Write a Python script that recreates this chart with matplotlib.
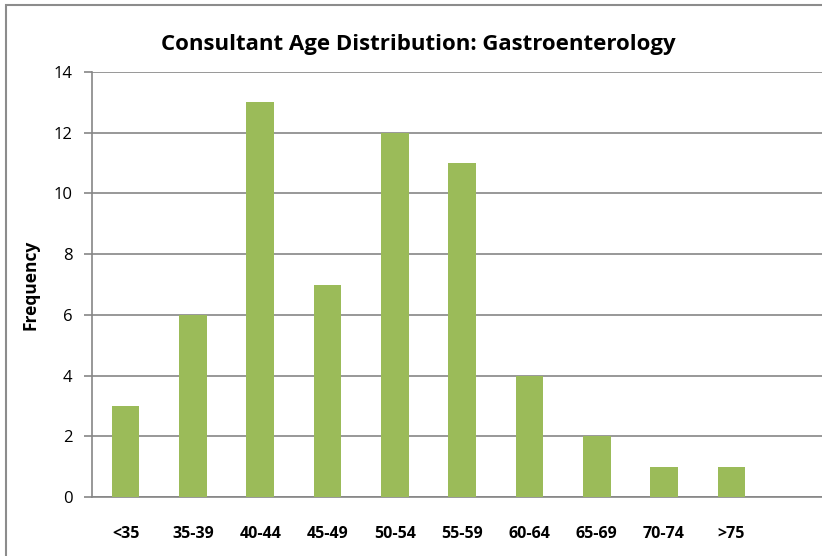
import matplotlib.pyplot as plt
from matplotlib.patches import Rectangle

# age bands and number of consultants in each
age_bands = ['<35', '35-39', '40-44', '45-49', '50-54', '55-59', '60-64', '65-69', '70-74', '>75']
frequency = [3, 6, 13, 7, 12, 11, 4, 2, 1, 1]

plt.rcParams['font.family'] = ['Open Sans', 'DejaVu Sans']

fig = plt.figure(figsize=(8.22, 5.56), dpi=100)
ax = fig.add_axes([92/822, 59/556, 730/822, 425/556])

x = list(range(len(age_bands)))
ax.bar(x, frequency, width=0.41, color='#9BBB59', zorder=3)

ax.set_xlim(-0.5, -0.5 + 730/67.3)
ax.set_ylim(0, 14)
ax.set_yticks(range(0, 15, 2))
ax.set_xticks(x)
ax.set_xticklabels(age_bands, fontweight='bold', fontsize=11.5)
ax.tick_params(axis='x', length=0, pad=21)
ax.tick_params(axis='y', length=6, width=1.2, color='#868686', labelsize=12, pad=8)

ax.grid(axis='y', color='#868686', linewidth=1.2, zorder=0)
for side in ['top', 'right']:
    ax.spines[side].set_visible(False)
ax.spines['left'].set_color('#868686')
ax.spines['bottom'].set_color('#868686')
ax.spines['left'].set_linewidth(1.2)
ax.spines['bottom'].set_linewidth(1.2)

ax.set_ylabel('Frequency', fontweight='bold', fontsize=12.5, labelpad=10)
fig.text(418/822, 1 - 45/556, 'Consultant Age Distribution: Gastroenterology',
         ha='center', va='center', fontsize=16, fontweight='bold')

# outer chart border (only left and top fall inside the picture)
fig.patches.append(Rectangle((6/822, -0.1), 1.2, 1.1 - 5/556, transform=fig.transFigure,
                             fill=False, edgecolor='#8c8c8c', linewidth=1.5))

fig.savefig('out.png', dpi=100)
